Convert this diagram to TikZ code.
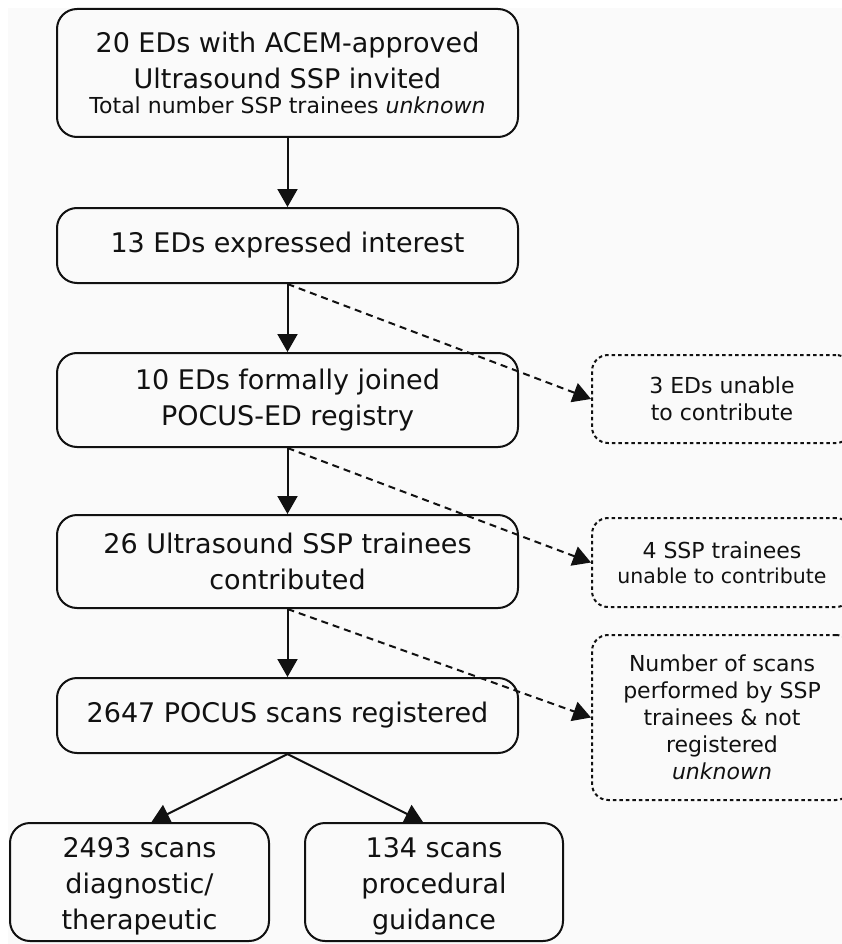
\documentclass[tikz,border=0pt]{standalone}
\usepackage{fontspec}
\setmainfont{DejaVu Sans}
\usetikzlibrary{arrows.meta,calc}
\definecolor{paper}{HTML}{FAFAFA}
\definecolor{ink}{HTML}{111111}
\newcommand{\toppad}{\rule{0pt}{28.5pt}}
\begin{document}
\begin{tikzpicture}[x=1pt,y=-1pt,
  stagebox/.style={draw=ink, line width=2pt, rounded corners=20pt, inner sep=0pt,
    align=center, text=ink, font=\fontsize{27}{36}\selectfont},
  sidebox/.style={draw=ink, line width=2pt, dash pattern=on 3.5pt off 3pt,
    rounded corners=16pt, inner sep=0pt, align=center, text=ink,
    font=\fontsize{22}{27}\selectfont},
  flow/.style={draw=ink, line width=2pt, -{Triangle[length=18pt,width=20pt]}},
  lost/.style={flow, dash pattern=on 7pt off 5pt},
]
\useasboundingbox (0,0) rectangle (842,944);
\clip (0,0) rectangle (842,944);
\fill[white] (0,0) rectangle (842,944);
\fill[paper] (8,8) rectangle (842,944);

% main stages
\node[stagebox, minimum width=461pt, minimum height=128pt] (b1) at (287.5,73)
  {20 EDs with ACEM-approved\\Ultrasound SSP invited\\[-11pt]
   {\fontsize{22}{27}\selectfont Total number SSP trainees \textit{unknown}}};
\node[stagebox, minimum width=461pt, minimum height=75pt] (b2) at (287.5,245.5)
  {13 EDs expressed interest};
\node[stagebox, minimum width=461pt, minimum height=94pt] (b3) at (287.5,400)
  {10 EDs formally joined\\POCUS-ED registry};
\node[stagebox, minimum width=461pt, minimum height=93pt] (b4) at (287.5,561.5)
  {26 Ultrasound SSP trainees\\contributed};
\node[stagebox, minimum width=461pt, minimum height=75pt] (b5) at (287.5,715.5)
  {2647 POCUS scans registered};

% scan categories
\node[stagebox, minimum width=259pt, minimum height=118pt] (dl) at (139.5,882)
  {\toppad 2493 scans\\diagnostic/\\therapeutic};
\node[stagebox, minimum width=258pt, minimum height=118pt] (dr) at (434,882)
  {\toppad 134 scans\\procedural\\guidance};

% losses
\node[sidebox, minimum width=260pt, minimum height=88pt] (dA) at (722,399)
  {3 EDs unable\\to contribute};
\node[sidebox, minimum width=260pt, minimum height=89pt] (dB) at (722,562.5)
  {4 SSP trainees\\[-2pt]{\fontsize{20.5}{27}\selectfont unable to contribute}};
\node[sidebox, minimum width=260pt, minimum height=165pt] (dC) at (722,717.5)
  {Number of scans\\performed by SSP\\trainees \& not\\registered\\\textit{unknown}};

% connectors
\draw[flow] (b1.south) -- (b2.north);
\draw[flow] (b2.south) -- (b3.north);
\draw[flow] (b3.south) -- (b4.north);
\draw[flow] (b4.south) -- (b5.north);
\draw[flow] (b5.south) -- ($(dl.north)+(12,0)$);
\draw[flow] (b5.south) -- ($(dr.north)+(-11,0)$);
\draw[lost] (b2.south) -- (dA.west);
\draw[lost] (b3.south) -- (dB.west);
\draw[lost] (b4.south) -- (dC.west);
\end{tikzpicture}
\end{document}
